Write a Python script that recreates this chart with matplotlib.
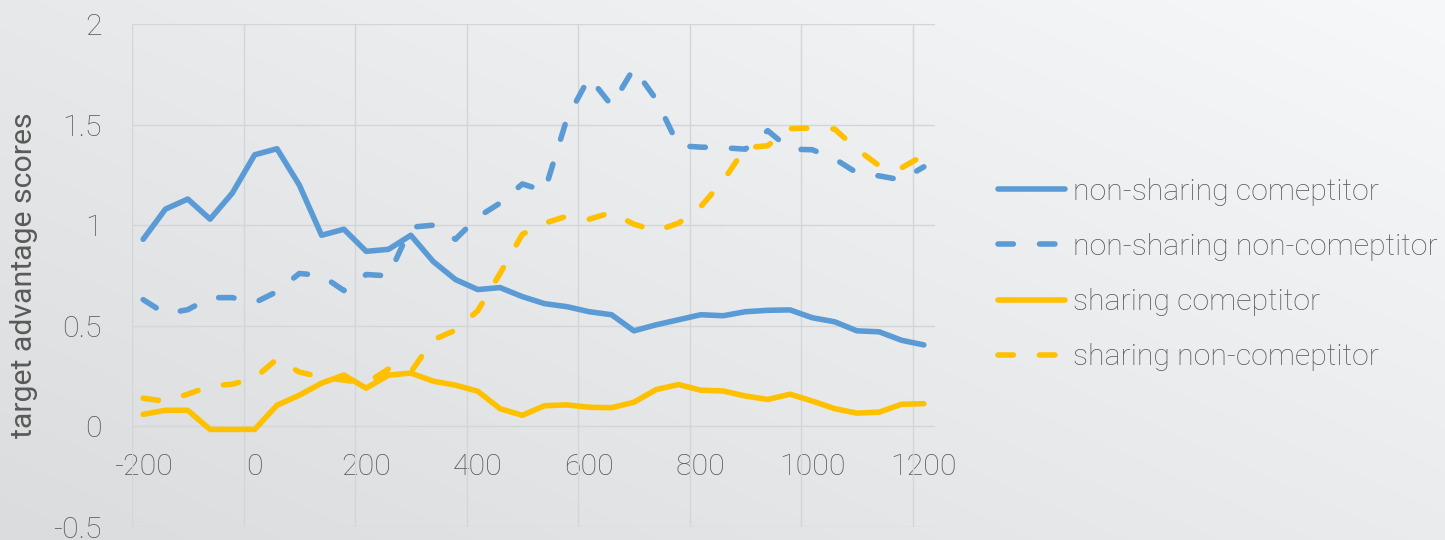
import numpy as np
import matplotlib
matplotlib.use("Agg")
import matplotlib.pyplot as plt
from matplotlib import font_manager

# ---- data -------------------------------------------------------------
times = [-200, -160, -120, -80, -40, 0, 40, 80, 120, 160, 200, 240,
         280, 320, 360, 400, 440, 480, 520, 560, 600, 640, 680, 720,
         760, 800, 840, 880, 920, 960, 1000, 1040, 1080, 1120, 1160, 1200]

non_sharing_competitor = [0.93, 1.08, 1.13, 1.03, 1.16, 1.35, 1.38, 1.20, 0.95, 0.98,
                          0.87, 0.88, 0.95, 0.82, 0.73, 0.68, 0.69, 0.645, 0.61, 0.595,
                          0.57, 0.555, 0.475, 0.505, 0.53, 0.555, 0.55, 0.57, 0.577, 0.579,
                          0.54, 0.52, 0.475, 0.47, 0.428, 0.405]

non_sharing_noncompetitor = [0.63, 0.56, 0.58, 0.64, 0.64, 0.615, 0.67, 0.76, 0.75, 0.675,
                             0.755, 0.748, 0.99, 1.00, 0.93, 1.04, 1.11, 1.205, 1.17, 1.53,
                             1.735, 1.595, 1.78, 1.625, 1.395, 1.388, 1.385, 1.378, 1.47, 1.378,
                             1.375, 1.33, 1.26, 1.245, 1.225, 1.29]

sharing_competitor = [0.06, 0.08, 0.08, -0.015, -0.015, -0.015, 0.105, 0.155, 0.215, 0.255,
                      0.19, 0.255, 0.265, 0.225, 0.205, 0.175, 0.088, 0.055, 0.103, 0.107,
                      0.095, 0.093, 0.12, 0.183, 0.208, 0.18, 0.176, 0.151, 0.134, 0.16,
                      0.126, 0.088, 0.066, 0.071, 0.11, 0.113]

sharing_noncompetitor = [0.14, 0.125, 0.16, 0.20, 0.21, 0.24, 0.335, 0.27, 0.245, 0.23,
                         0.215, 0.285, 0.27, 0.43, 0.478, 0.575, 0.76, 0.955, 1.01, 1.045,
                         1.03, 1.063, 1.005, 0.972, 1.01, 1.093, 1.22, 1.385, 1.395, 1.48,
                         1.483, 1.478, 1.378, 1.295, 1.285, 1.348]

series_labels = ["non-sharing comeptitor", "non-sharing non-comeptitor",
                 "sharing comeptitor", "sharing non-comeptitor"]
x_ticks = [-200, 0, 200, 400, 600, 800, 1000, 1200]
y_ticks = [-0.5, 0, 0.5, 1, 1.5, 2]
y_label = "target advantage scores"

# ---- style ------------------------------------------------------------
BLUE = "#5B9BD5"
GOLD = "#FFC000"
TEXT = "#595959"
GRID = "#D4D5D7"
LW = 4.0
DASH = (0, (2.77, 4.7))

installed = {f.name for f in font_manager.fontManager.ttflist}
family = [f for f in ["Roboto", "Open Sans", "Lato"] if f in installed] + ["DejaVu Sans"]
plt.rcParams["font.family"] = family
plt.rcParams["font.weight"] = "light"
plt.rcParams["axes.unicode_minus"] = False
FS = 21.8

fig = plt.figure(figsize=(14.45, 5.4), dpi=100)

# soft diagonal background gradient
bg = fig.add_axes([0, 0, 1, 1], zorder=-10)
h, w = 270, 720
u = np.linspace(0, 1, w)[None, :]
v = np.linspace(0, 1, h)[:, None]          # 0 at top
t = np.clip(0.55 * u + 0.45 * (1 - v), 0, 1)
dark = np.array([0xDB, 0xDC, 0xDE]) / 255
light = np.array([0xF6, 0xF8, 0xFA]) / 255
img = dark[None, None, :] * (1 - t[..., None]) + light[None, None, :] * t[..., None]
bg.imshow(img, aspect="auto", extent=[0, 1, 0, 1], interpolation="bilinear")
bg.set_axis_off()

ax = fig.add_axes([132 / 1445, 13 / 540, 803 / 1445, 503 / 540])
ax.set_facecolor("none")

ax.plot(times, non_sharing_competitor, color=BLUE, lw=LW,
        solid_capstyle="round", solid_joinstyle="round", label=series_labels[0], zorder=3)
ax.plot(times, non_sharing_noncompetitor, color=BLUE, lw=LW, linestyle=DASH,
        dash_capstyle="round", dash_joinstyle="round", label=series_labels[1], zorder=3)
ax.plot(times, sharing_competitor, color=GOLD, lw=LW,
        solid_capstyle="round", solid_joinstyle="round", label=series_labels[2], zorder=3)
ax.plot(times, sharing_noncompetitor, color=GOLD, lw=LW, linestyle=DASH,
        dash_capstyle="round", dash_joinstyle="round", label=series_labels[3], zorder=3)

# category-style x axis: each point sits in the middle of a 40-unit slot
step = times[1] - times[0]
ax.set_xlim(times[0] - step / 2, times[-1] + step / 2)
ax.set_ylim(y_ticks[0], y_ticks[-1])

ax.set_xticks(x_ticks)
ax.set_xticks([x - step / 2 for x in x_ticks], minor=True)
ax.set_yticks(y_ticks)
ax.set_yticklabels([f"{v:g}" for v in y_ticks])

ax.grid(False)
ax.xaxis.grid(True, which="minor", color=GRID, lw=1.0, zorder=0)
ax.yaxis.grid(True, which="major", color=GRID, lw=1.0, zorder=0)
ax.set_axisbelow(True)

for s in ax.spines.values():
    s.set_visible(False)
ax.spines["bottom"].set_position(("data", 0))

ax.tick_params(axis="x", which="major", length=0, pad=19, labelsize=FS, labelcolor=TEXT)
ax.tick_params(axis="x", which="minor", length=0)
ax.tick_params(axis="y", which="major", length=0, pad=22, labelsize=FS, labelcolor=TEXT)

ax.set_ylabel(y_label, fontsize=FS, color=TEXT)
ax.yaxis.label.set_verticalalignment("center")
ax.yaxis.set_label_coords(-0.135, 0.5)

handles, labels = ax.get_legend_handles_labels()
fig.legend(handles, labels, loc="center left", bbox_to_anchor=(998 / 1445, 0.4917),
           frameon=False, borderpad=0, borderaxespad=0, handlelength=2.2,
           handletextpad=0.27, labelspacing=0.90, fontsize=FS, labelcolor=TEXT)

fig.savefig("out.png", dpi=100)
